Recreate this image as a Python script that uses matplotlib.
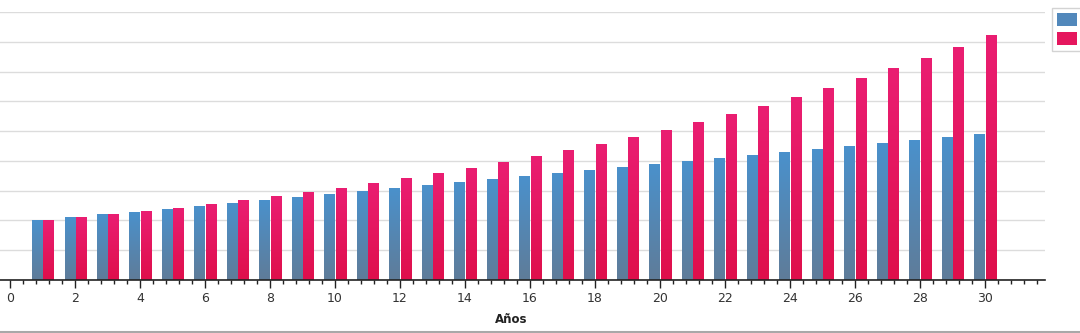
import numpy as np
import matplotlib
matplotlib.use("Agg")
import matplotlib.pyplot as plt
from matplotlib.colors import LinearSegmentedColormap
from matplotlib.patches import Patch
from matplotlib.lines import Line2D
from matplotlib.ticker import MultipleLocator

years = list(range(1, 31))
simple_vals = [2.0, 2.1, 2.2, 2.3, 2.4, 2.5, 2.6, 2.7, 2.8, 2.9,
               3.0, 3.1, 3.2, 3.3, 3.4, 3.5, 3.6, 3.7, 3.8, 3.9,
               4.0, 4.1, 4.2, 4.3, 4.4, 4.5, 4.6, 4.7, 4.8, 4.9]
compound_vals = [2.00, 2.10, 2.21, 2.32, 2.43, 2.55, 2.68, 2.81, 2.96, 3.10,
                 3.26, 3.42, 3.59, 3.77, 3.96, 4.16, 4.37, 4.58, 4.81, 5.05,
                 5.31, 5.57, 5.85, 6.14, 6.45, 6.77, 7.11, 7.47, 7.84, 8.23]
xticks = list(range(0, 31, 2))
x_label = "Años"

W, H = 1080, 333
fig = plt.figure(figsize=(W / 100, H / 100), dpi=100)
ax = fig.add_axes([0 / W, (H - 280) / H, 1045 / W, (280 - 12) / H])

blue_cmap = LinearSegmentedColormap.from_list("b", ["#5f7c99", "#4a91cc"])
pink_cmap = LinearSegmentedColormap.from_list("p", ["#df0f4b", "#ea1e72"])
grad = np.linspace(0, 1, 128).reshape(-1, 1)

bw = 0.32
xs = np.array(years, dtype=float)
b1 = ax.bar(xs - 0.165, simple_vals, width=bw, facecolor="none", edgecolor="none", zorder=2)
b2 = ax.bar(xs + 0.185, compound_vals, width=bw, facecolor="none", edgecolor="none", zorder=2)

for bars, cmap in ((b1, blue_cmap), (b2, pink_cmap)):
    for r in bars:
        x0, w, h = r.get_x(), r.get_width(), r.get_height()
        im = ax.imshow(grad, cmap=cmap, extent=[x0, x0 + w, 0, h], aspect="auto",
                       origin="lower", zorder=2, interpolation="bilinear")
        im.set_clip_path(r)

ax.set_xlim(-0.31, 31.85)
ax.set_ylim(0, 9)
ax.set_yticks(np.arange(0, 10, 1))
ax.yaxis.grid(True, color="#dcdcdc", linewidth=1)
ax.set_axisbelow(True)
ax.tick_params(axis="y", left=False, labelleft=False)
for s in ("left", "right", "top"):
    ax.spines[s].set_visible(False)
ax.spines["bottom"].set_color("#222222")
ax.spines["bottom"].set_linewidth(1.2)
ax.spines["bottom"].set_zorder(3)

ax.set_xticks(xticks)
ax.xaxis.set_minor_locator(MultipleLocator(0.4))
ax.tick_params(axis="x", which="major", direction="out", length=6, width=1,
               color="#222222", labelsize=9, labelcolor="#333333", pad=3)
ax.tick_params(axis="x", which="minor", direction="out", length=3, width=1, color="#222222")
ax.set_xlabel(x_label, fontsize=8.5, fontweight="bold", color="#222222")
ax.xaxis.set_label_coords(511 / 1045, -33 / 268)

handles = [Patch(facecolor="#5288bb", edgecolor="none"),
           Patch(facecolor="#e5175e", edgecolor="none")]
leg = fig.legend(handles, ["", ""], loc="upper left",
                 bbox_to_anchor=(1052 / W, 1 - 8 / H), fontsize=10,
                 handlelength=1.45, handleheight=1.05, handletextpad=0.3,
                 labelspacing=0.3, borderpad=0.38, frameon=True, fancybox=False,
                 borderaxespad=0)
leg.get_frame().set_edgecolor("#c8c8c8")
leg.get_frame().set_linewidth(1)

fig.add_artist(Line2D([0, 1], [1.5 / H, 1.5 / H], color="#a8a8a8", linewidth=1.5,
                      transform=fig.transFigure))

fig.savefig("out.png", dpi=100)
